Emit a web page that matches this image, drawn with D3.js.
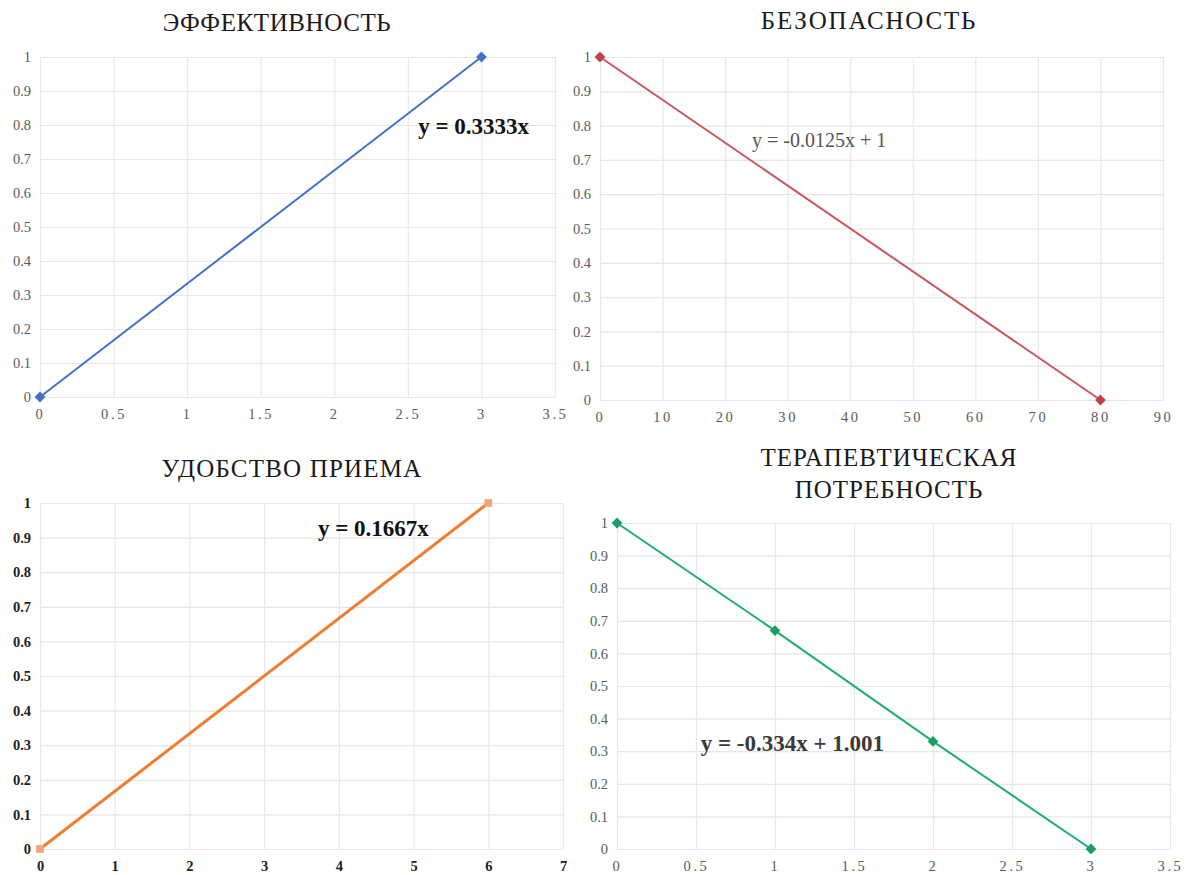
<!DOCTYPE html>
<html>
<head>
<meta charset="utf-8">
<script src="https://cdn.jsdelivr.net/npm/d3@7"></script>
<style>
  html, body { margin: 0; padding: 0; background: #ffffff; }
  svg { display: block; }
</style>
</head>
<body>
<svg id="chart" width="1192" height="875"></svg>
<script>
// Panel titles
const titles = [
  ["ЭФФЕКТИВНОСТЬ"],
  ["БЕЗОПАСНОСТЬ"],
  ["УДОБСТВО ПРИЕМА"],
  ["ТЕРАПЕВТИЧЕСКАЯ", "ПОТРЕБНОСТЬ"]
];

// Series data (x, y) per panel
const effX = [0, 3];
const effY = [0, 1];
const safX = [0, 80];
const safY = [1, 0];
const convX = [0, 6];
const convY = [0, 1];
const needX = [0, 1, 2, 3];
const needY = [1, 0.67, 0.33, 0];

// Axis ticks
const yTicks = [0, 0.1, 0.2, 0.3, 0.4, 0.5, 0.6, 0.7, 0.8, 0.9, 1];
const xTicksEff = [0, 0.5, 1, 1.5, 2, 2.5, 3, 3.5];
const xTicksSaf = [0, 10, 20, 30, 40, 50, 60, 70, 80, 90];
const xTicksConv = [0, 1, 2, 3, 4, 5, 6, 7];
const xTicksNeed = [0, 0.5, 1, 1.5, 2, 2.5, 3, 3.5];

// Trendline equations and where they sit (data units)
const equations = ["y = 0.3333x", "y = -0.0125x + 1", "y = 0.1667x", "y = -0.334x + 1.001"];
const eqAt = [[2.57, 0.775], [24.3, 0.738], [3.72, 0.905], [0.53, 0.3]];

const svg = d3.select("#chart");
const serif = "'Liberation Serif', 'Times New Roman', 'DejaVu Serif', serif";

const panels = [
  { title: titles[0], xs: effX, ys: effY, xt: xTicksEff, eq: equations[0], eqPos: eqAt[0],
    rect: { l: 40, r: 555, t: 57, b: 397 }, titleX: 277, titleY: 31, titleLS: 0.6,
    color: "#4472c4", marker: "diamond", mColor: "#4472c4", lw: 2,
    boldTicks: false, eqBold: true, eqSize: 23, eqColor: "#111" },
  { title: titles[1], xs: safX, ys: safY, xt: xTicksSaf, eq: equations[1], eqPos: eqAt[1],
    rect: { l: 600, r: 1163, t: 57, b: 400 }, titleX: 869, titleY: 29, titleLS: 1.8,
    color: "#c9555f", marker: "diamond", mColor: "#c0404c", lw: 2,
    boldTicks: false, eqBold: false, eqSize: 20, eqColor: "#555" },
  { title: titles[2], xs: convX, ys: convY, xt: xTicksConv, eq: equations[2], eqPos: eqAt[2],
    rect: { l: 40, r: 563, t: 503, b: 849 }, titleX: 292, titleY: 477, titleLS: 1.2,
    color: "#ed7d31", marker: "square", mColor: "#f5a47c", lw: 3,
    boldTicks: true, eqBold: true, eqSize: 23, eqColor: "#111" },
  { title: titles[3], xs: needX, ys: needY, xt: xTicksNeed, eq: equations[3], eqPos: eqAt[3],
    rect: { l: 617, r: 1170, t: 523, b: 849 }, titleX: 889, titleY: 466, titleLS: 1.0,
    color: "#1fae6e", marker: "diamond", mColor: "#1a9e66", lw: 2,
    boldTicks: false, eqBold: true, eqSize: 23, eqColor: "#3a3a3a" }
];

const fmt = v => String(v);

panels.forEach(p => {
  const g = svg.append("g");
  const xMax = p.xt[p.xt.length - 1];
  const x = d3.scaleLinear().domain([0, xMax]).range([p.rect.l, p.rect.r]);
  const y = d3.scaleLinear().domain([0, 1]).range([p.rect.b, p.rect.t]);

  // Title (one or two lines)
  p.title.forEach((line, i) => {
    g.append("text")
      .attr("x", p.titleX).attr("y", p.titleY + i * 32)
      .attr("text-anchor", "middle")
      .attr("font-family", serif).attr("font-size", 25)
      .attr("letter-spacing", p.titleLS)
      .attr("fill", "#1a1a1a")
      .text(line);
  });

  // Horizontal gridlines
  g.append("g").attr("transform", `translate(${p.rect.l},0)`).call(
    d3.axisLeft(y).tickValues(yTicks).tickSize(-(p.rect.r - p.rect.l)).tickFormat("")
  ).call(a => {
    a.select(".domain").remove();
    a.selectAll("line").attr("stroke", "#e6e6e6").attr("stroke-width", 1.2);
  });

  // Vertical gridlines
  g.append("g").attr("transform", `translate(0,${p.rect.b})`).call(
    d3.axisBottom(x).tickValues(p.xt).tickSize(-(p.rect.b - p.rect.t)).tickFormat("")
  ).call(a => {
    a.select(".domain").remove();
    a.selectAll("line").attr("stroke", "#e8e8e8").attr("stroke-width", 1.2);
  });

  // Y tick labels
  g.append("g").attr("transform", `translate(${p.rect.l},0)`)
    .call(d3.axisLeft(y).tickValues(yTicks).tickSize(0).tickPadding(9).tickFormat(fmt))
    .call(a => {
      a.select(".domain").remove();
      a.selectAll("text")
        .attr("font-family", serif)
        .attr("font-size", 14.5)
        .attr("font-weight", p.boldTicks ? "bold" : "normal")
        .attr("fill", p.boldTicks ? "#222" : "#5a5a5a");
    });

  // X tick labels (spaced out)
  g.append("g").attr("transform", `translate(0,${p.rect.b})`)
    .call(d3.axisBottom(x).tickValues(p.xt).tickSize(0).tickPadding(12).tickFormat(fmt))
    .call(a => {
      a.select(".domain").remove();
      a.selectAll("text")
        .attr("font-family", serif)
        .attr("font-size", 14.5)
        .attr("font-weight", p.boldTicks ? "bold" : "normal")
        .attr("letter-spacing", p.boldTicks ? 0 : 2.6)
        .attr("fill", p.boldTicks ? "#222" : "#5a5a5a");
    });

  // Series line
  const pts = p.xs.map((v, i) => [v, p.ys[i]]);
  g.append("path")
    .datum(pts)
    .attr("fill", "none")
    .attr("stroke", p.color)
    .attr("stroke-width", p.lw)
    .attr("d", d3.line().x(d => x(d[0])).y(d => y(d[1])));

  // Markers: rotated squares for diamonds, plain squares otherwise
  const isSq = p.marker === "square";
  g.selectAll(".m").data(pts).enter().append("path")
    .attr("transform", d => `translate(${x(d[0])},${y(d[1])}) rotate(${isSq ? 0 : 45})`)
    .attr("d", d3.symbol().type(d3.symbolSquare).size(isSq ? 60 : 58))
    .attr("fill", p.mColor);

  // Trendline equation
  g.append("text")
    .attr("x", x(p.eqPos[0])).attr("y", y(p.eqPos[1]))
    .attr("font-family", serif)
    .attr("font-size", p.eqSize)
    .attr("font-weight", p.eqBold ? "bold" : "normal")
    .attr("fill", p.eqColor)
    .text(p.eq);
});
</script>
</body>
</html>
